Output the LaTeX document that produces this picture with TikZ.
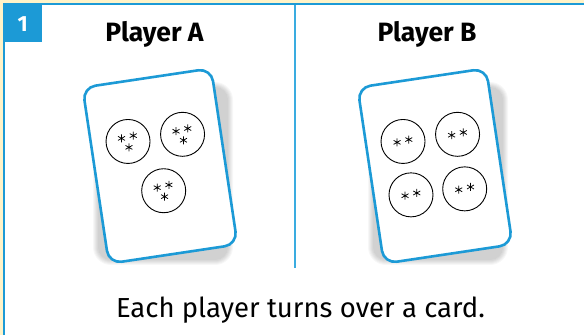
\documentclass[tikz,border=0pt]{standalone}
\usepackage{fontspec}
\setmainfont{Fira Sans}
\definecolor{cardblue}{RGB}{28,154,214}
\definecolor{lineblue}{RGB}{58,172,224}
\definecolor{stripyellow}{RGB}{255,243,200}
\tikzset{
  cardbox/.style={rectangle, draw=cardblue, line width=2.6pt, fill=white, rounded corners=13pt,
    minimum width=130pt, minimum height=178pt, inner sep=0pt, transform shape},
  dotcircle/.style={circle, draw=black, line width=0.9pt, minimum size=44pt, inner sep=0pt},
  heading/.style={font=\fontsize{26.5}{30}\selectfont\bfseries, anchor=base, inner sep=0pt},
  caption/.style={font=\fontsize{27.5}{32}\selectfont, anchor=base, inner sep=0pt},
  asterisk/.pic={\draw[line width=0.75pt] (90:4) -- (-90:4) (30:4) -- (210:4) (150:4) -- (-30:4);},
  cardshadow/.pic={\foreach \k in {0,1,2,3,4,5}{\fill[black, opacity=0.03, rounded corners=13pt+\k pt]
      (-65+3-\k, -89-5-\k) rectangle (65+3+\k, 89-10+\k);}},
}
\begin{document}
\begin{tikzpicture}[x=1pt,y=1pt]
\useasboundingbox (0,0) rectangle (584,335);
\fill[white] (0,0) rectangle (584,335);
% strips and frame
\fill[stripyellow] (0,0) rectangle (3.4,335);
\fill[stripyellow] (0,331.6) rectangle (584,335);
\fill[cardblue] (3.4,0) rectangle (5.2,331.6);
\fill[cardblue] (3.4,329.8) rectangle (584,331.6);
\node[rectangle, fill=cardblue, minimum width=38.5pt, minimum height=38pt, inner sep=0pt, anchor=north west] (numbox) at (3.4,331.6) {};
\node[font=\fontsize{22}{24}\selectfont\bfseries, text=white, inner sep=0pt] (num) at ([yshift=-1pt]numbox.center) {1};
% divider
\coordinate (divtop) at (295,330);
\coordinate (divbot) at (295,67);
\draw[lineblue, line width=1.8pt] (divtop) -- (divbot);
% headings
\node[heading] (headA) at (154.5,293.3) {Player A};
\node[heading] (headB) at (427,293.3) {Player B};
% card A
\begin{scope}[shift={(160,169)}, rotate=8.5]
  \pic {cardshadow};
  \node[cardbox] (cardA) at (0,0) {};
  \node[dotcircle] (a1) at (-28,29) {};
  \node[dotcircle] (a2) at (27,28) {};
  \node[dotcircle] (a3) at (0,-25) {};
  \foreach \c in {a1,a2,a3}{
    \pic at ([shift={(-6,4)}]\c.center) {asterisk};
    \pic at ([shift={(6,5)}]\c.center) {asterisk};
    \pic at ([shift={(0,-6)}]\c.center) {asterisk};
  }
\end{scope}
% card B
\begin{scope}[shift={(435,169)}, rotate=8.5]
  \pic {cardshadow};
  \node[cardbox] (cardB) at (0,0) {};
  \node[dotcircle] (b1) at (-28,29) {};
  \node[dotcircle] (b2) at (27,28) {};
  \node[dotcircle] (b3) at (-28,-25) {};
  \node[dotcircle] (b4) at (26,-27) {};
  \foreach \c in {b1,b2,b3,b4}{
    \pic at ([shift={(-6,0)}]\c.center) {asterisk};
    \pic at ([shift={(6,1)}]\c.center) {asterisk};
  }
\end{scope}
% caption
\node[caption] (cap) at (300.5,18) {Each player turns over a card.};
\end{tikzpicture}
\end{document}
